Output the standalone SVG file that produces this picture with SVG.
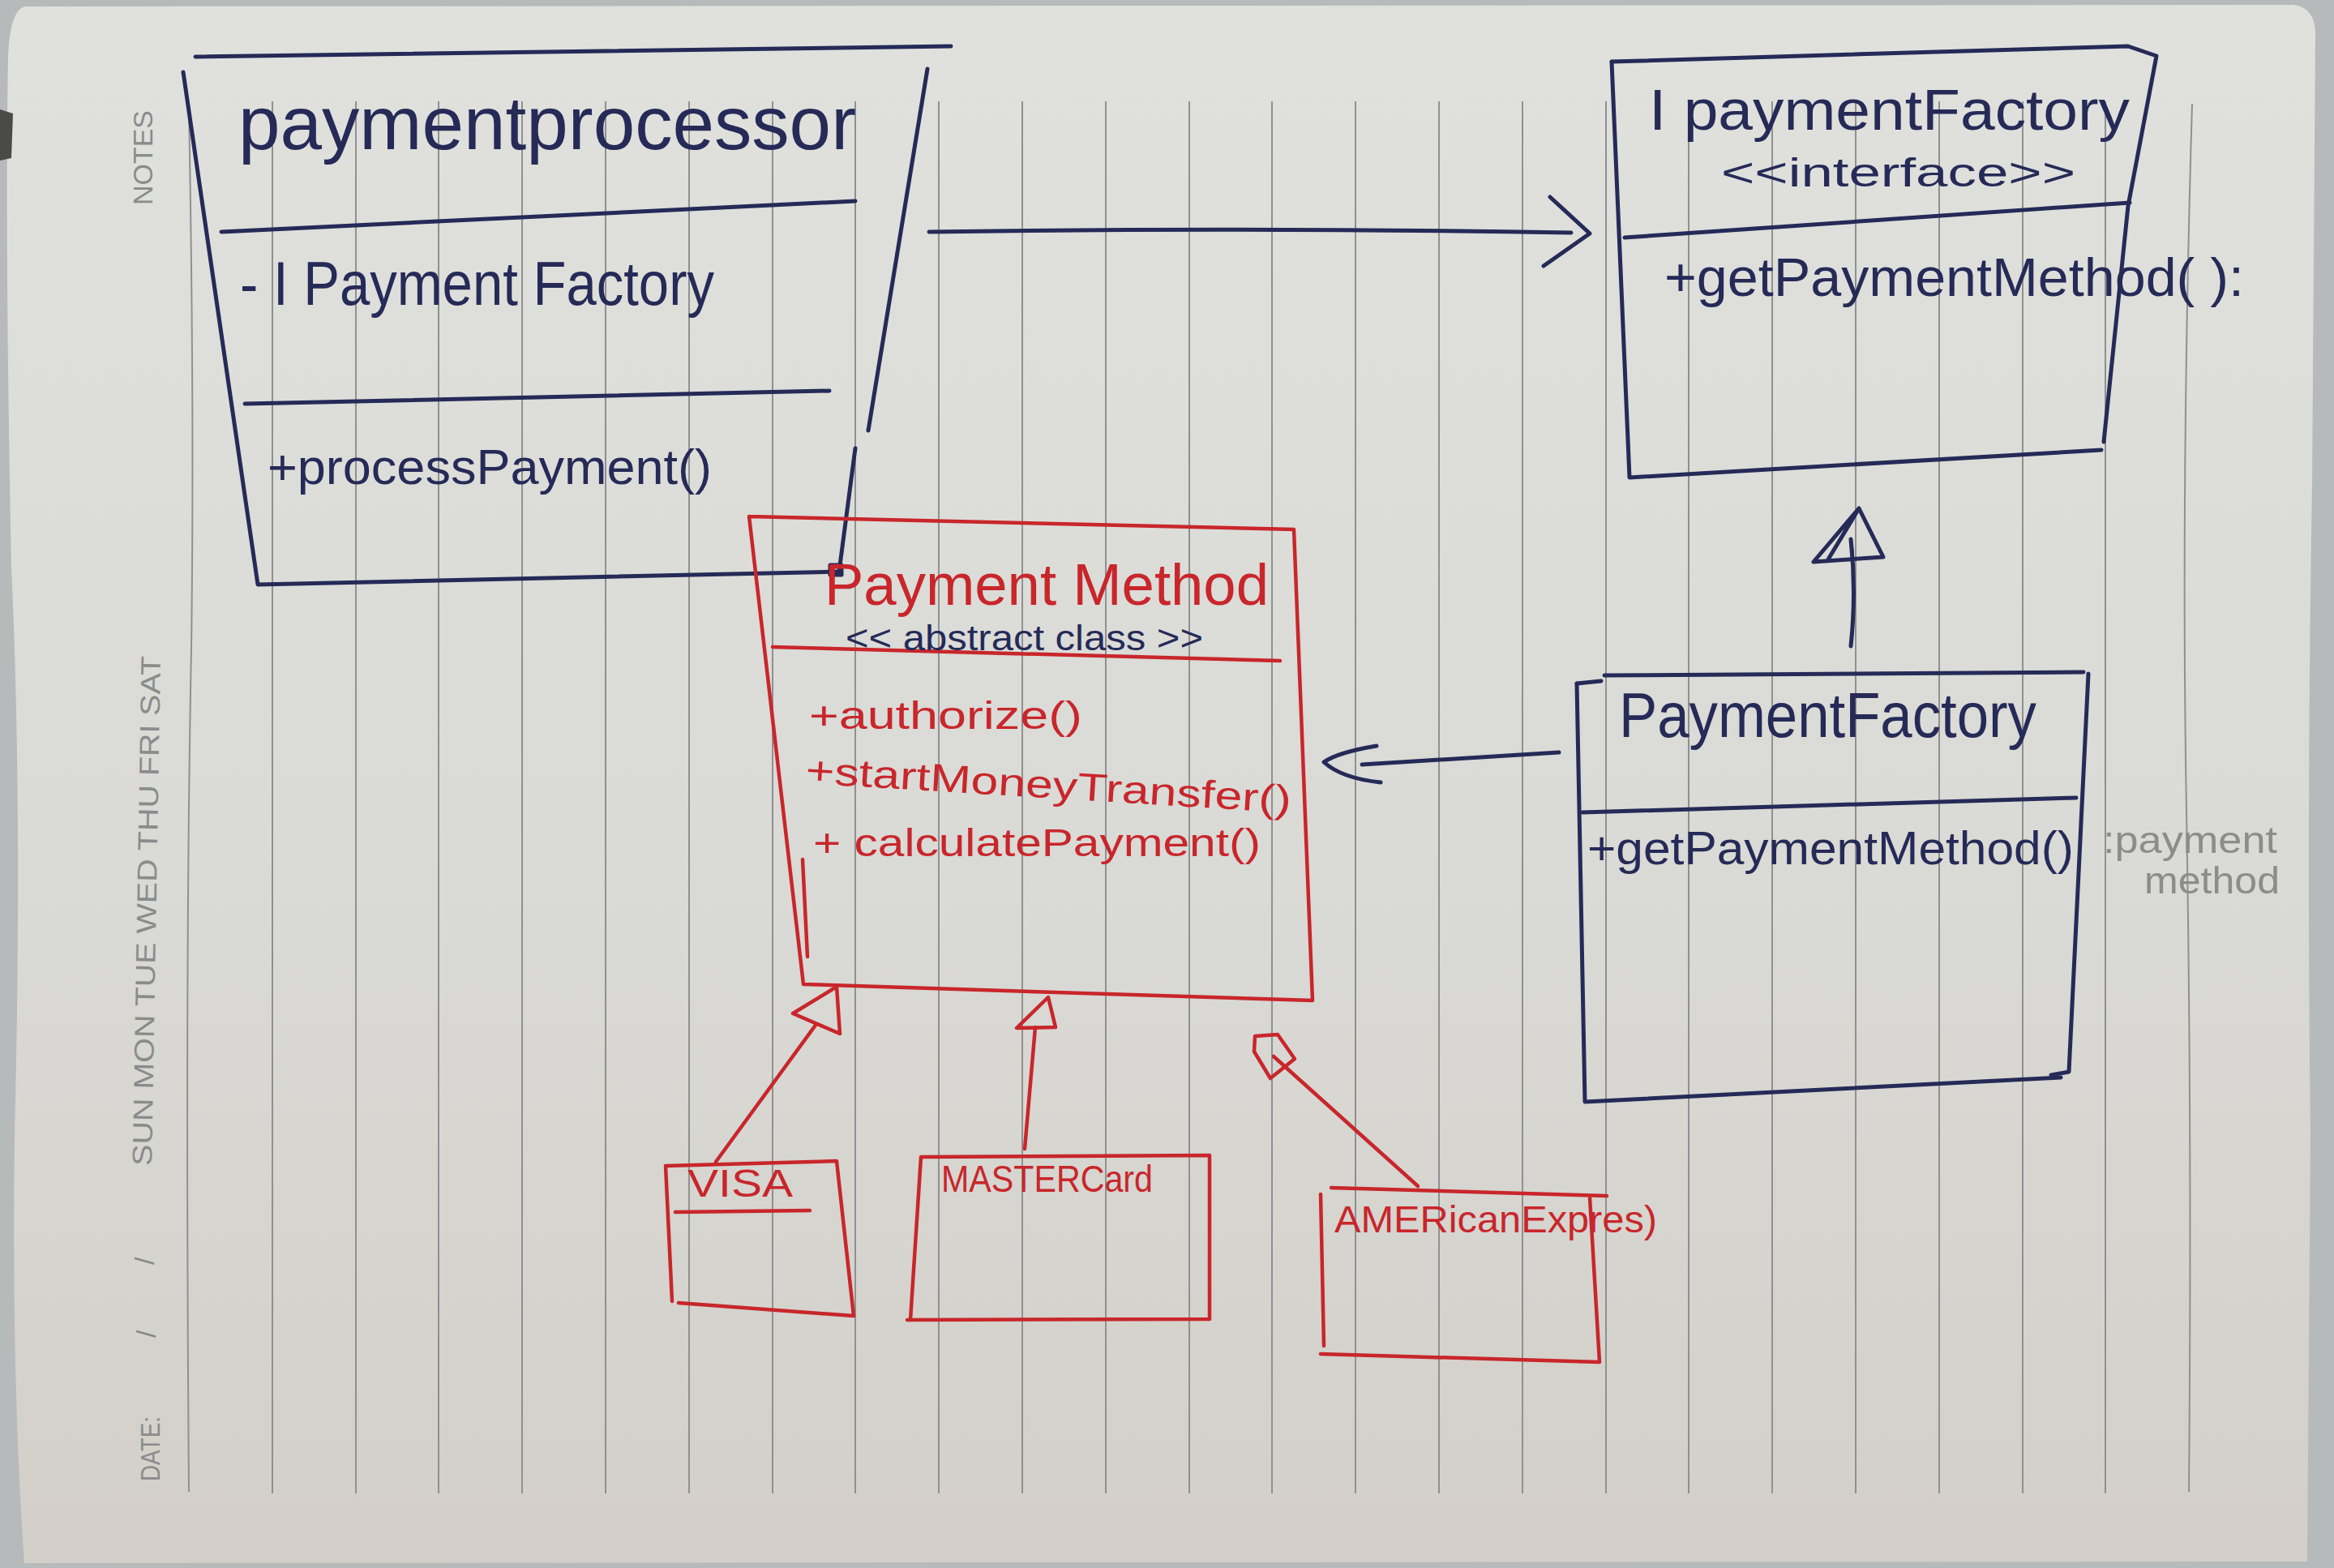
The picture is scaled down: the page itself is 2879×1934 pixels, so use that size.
<svg xmlns="http://www.w3.org/2000/svg" width="2879" height="1934" viewBox="0 0 2879 1934">
<defs>
<linearGradient id="paper" x1="0" y1="0" x2="0" y2="1">
<stop offset="0" stop-color="#e0e1dd"/>
<stop offset="0.6" stop-color="#d9d9d5"/>
<stop offset="1" stop-color="#d3cfc8"/>
</linearGradient>
<style>
.rule{stroke:#8f9090;stroke-width:2;fill:none}
.navy{stroke:#252a57;stroke-width:5;fill:none;stroke-linecap:round;stroke-linejoin:round}
.red{stroke:#c8262b;stroke-width:4.5;fill:none;stroke-linecap:round;stroke-linejoin:round}
.tn{fill:#252a57;font-family:"Liberation Sans",Arial,sans-serif}
.tr{fill:#c8262b;font-family:"Liberation Sans",Arial,sans-serif}
.tg{fill:#8c8d8b;font-family:"Liberation Sans",Arial,sans-serif}
.tm{fill:#8a8b8b;font-family:"Liberation Sans",Arial,sans-serif;font-size:34px}
</style>
</defs>

<g id="background">
<rect x="0" y="0" width="2879" height="1934" fill="#b6baba"/>
<path d="M30,8 L2830,6 Q2855,10 2856,40 L2852,600 Q2845,1000 2850,1400 L2846,1926 L30,1928 Q14,1700 18,1400 Q28,1000 14,700 Q6,300 10,70 Q12,14 30,8 Z" fill="url(#paper)"/>
<path d="M0,135 L16,140 L14,195 L0,198 Z" fill="#4a4a48"/>
<g id="ruled-lines">
<path class="rule" d="M233,135 Q240,500 236,800 Q228,1200 233,1840"/>
<line class="rule" x1="336" y1="125" x2="336" y2="1842"/>
<line class="rule" x1="439" y1="125" x2="439" y2="1842"/>
<line class="rule" x1="541" y1="125" x2="541" y2="1842"/>
<line class="rule" x1="644" y1="125" x2="644" y2="1842"/>
<line class="rule" x1="747" y1="125" x2="747" y2="1842"/>
<line class="rule" x1="850" y1="125" x2="850" y2="1842"/>
<line class="rule" x1="953" y1="125" x2="953" y2="1842"/>
<line class="rule" x1="1055" y1="125" x2="1055" y2="1842"/>
<line class="rule" x1="1158" y1="125" x2="1158" y2="1842"/>
<line class="rule" x1="1261" y1="125" x2="1261" y2="1842"/>
<line class="rule" x1="1364" y1="125" x2="1364" y2="1842"/>
<line class="rule" x1="1467" y1="125" x2="1467" y2="1842"/>
<line class="rule" x1="1569" y1="125" x2="1569" y2="1842"/>
<line class="rule" x1="1672" y1="125" x2="1672" y2="1842"/>
<line class="rule" x1="1775" y1="125" x2="1775" y2="1842"/>
<line class="rule" x1="1878" y1="125" x2="1878" y2="1842"/>
<line class="rule" x1="1981" y1="125" x2="1981" y2="1842"/>
<line class="rule" x1="2083" y1="125" x2="2083" y2="1842"/>
<line class="rule" x1="2186" y1="125" x2="2186" y2="1842"/>
<line class="rule" x1="2289" y1="125" x2="2289" y2="1842"/>
<line class="rule" x1="2392" y1="125" x2="2392" y2="1842"/>
<line class="rule" x1="2495" y1="125" x2="2495" y2="1842"/>
<line class="rule" x1="2597" y1="125" x2="2597" y2="1842"/>
<path class="rule" d="M2704,128 Q2690,600 2697,1000 Q2704,1400 2700,1840"/>
</g>
<g id="margin-print">
<text class="tm" transform="translate(188,253) rotate(-90)" textLength="117" lengthAdjust="spacingAndGlyphs">NOTES</text>
<text class="tm" transform="translate(187,1438) rotate(-89)" textLength="629" lengthAdjust="spacingAndGlyphs">SUN  MON  TUE  WED  THU  FRI  SAT</text>
<text class="tm" transform="translate(190,1560) rotate(-90)">/</text>
<text class="tm" transform="translate(192,1650) rotate(-90)">/</text>
<text class="tm" transform="translate(197,1827) rotate(-90)" textLength="80" lengthAdjust="spacingAndGlyphs">DATE:</text>
</g>
</g>

<g id="node-payment-processor">
<path class="navy" d="M241,70 L1173,57"/>
<path class="navy" d="M226,89 L318,721 L1035,705"/>
<path class="navy" d="M1144,85 L1071,531"/>
<path class="navy" d="M1055,553 L1035,705"/>
<rect class="navy" x="1024" y="697" width="14" height="12" stroke-width="3"/>
<path class="navy" d="M273,286 L1055,248"/>
<path class="navy" d="M302,498 L1023,482"/>
<text class="tn" x="294" y="184" font-size="92" textLength="762" lengthAdjust="spacingAndGlyphs">paymentprocessor</text>
<text class="tn" x="296" y="376" font-size="76" textLength="585" lengthAdjust="spacingAndGlyphs">- I Payment Factory</text>
<text class="tn" x="330" y="597" font-size="62" textLength="548" lengthAdjust="spacingAndGlyphs">+processPayment()</text>
</g>

<g id="node-ipayment-factory">
<path class="navy" d="M1988,76 L2625,57 L2660,69 L2625,254 L2595,545"/>
<path class="navy" d="M1988,76 L2010,589 L2592,555"/>
<path class="navy" d="M2004,293 L2627,250"/>
<text class="tn" x="2034" y="160" font-size="70" textLength="593" lengthAdjust="spacingAndGlyphs">I paymentFactory</text>
<text class="tn" x="2123" y="230" font-size="50" textLength="437" lengthAdjust="spacingAndGlyphs">&lt;&lt;interface&gt;&gt;</text>
<text class="tn" x="2053" y="365" font-size="66" textLength="715" lengthAdjust="spacingAndGlyphs">+getPaymentMethod( ):</text>
</g>

<g id="node-payment-factory">
<path class="navy" d="M1945,843 L1975,840 M1979,833 L2570,829"/>
<path class="navy" d="M1945,843 L1955,1359 L2542,1329"/>
<path class="navy" d="M2576,831 L2552,1322 L2530,1326"/>
<path class="navy" d="M1952,1002 L2561,984"/>
<text class="tn" x="1997" y="909" font-size="78" textLength="515" lengthAdjust="spacingAndGlyphs">PaymentFactory</text>
<text class="tn" x="1958" y="1066" font-size="58" textLength="600" lengthAdjust="spacingAndGlyphs">+getPaymentMethod()</text>
<text class="tg" x="2594" y="1052" font-size="46" textLength="215" lengthAdjust="spacingAndGlyphs">:payment</text>
<text class="tg" x="2645" y="1102" font-size="46" textLength="167" lengthAdjust="spacingAndGlyphs">method</text>
</g>

<g id="node-payment-method">
<path class="red" d="M924,637 L1596,653 L1619,1234 L991,1214 L924,637"/>
<path class="red" d="M990,1060 L996,1180"/>
<path class="red" d="M953,798 L1579,815"/>
<text class="tr" x="1017" y="746" font-size="72" textLength="548" lengthAdjust="spacingAndGlyphs">Payment Method</text>
<text class="tn" x="1043" y="802" font-size="44" textLength="441" lengthAdjust="spacingAndGlyphs">&lt;&lt; abstract class &gt;&gt;</text>
<text class="tr" x="998" y="899" font-size="48" textLength="337" lengthAdjust="spacingAndGlyphs">+authorize()</text>
<text class="tr" transform="rotate(3.5 993 966)" x="993" y="966" font-size="48" textLength="600" lengthAdjust="spacingAndGlyphs">+startMoneyTransfer()</text>
<text class="tr" x="1003" y="1056" font-size="48" textLength="552" lengthAdjust="spacingAndGlyphs">+ calculatePayment()</text>
</g>

<g id="node-visa">
<path class="red" d="M821,1438 L1032,1432 L1053,1623 L837,1607 M821,1438 L829,1605"/>
<path class="red" d="M833,1495 L999,1493"/>
<text class="tr" x="848" y="1476" font-size="48" textLength="130" lengthAdjust="spacingAndGlyphs">VISA</text>
</g>

<g id="node-mastercard">
<path class="red" d="M1136,1427 L1492,1425 L1492,1627 L1119,1628 M1136,1427 L1123,1628"/>
<text class="tr" x="1161" y="1470" font-size="46" textLength="261" lengthAdjust="spacingAndGlyphs">MASTERCard</text>
</g>

<g id="node-american-express">
<path class="red" d="M1642,1465 L1982,1475 M1629,1473 L1633,1660 M1961,1477 L1973,1680 M1629,1670 L1973,1680"/>
<text class="tr" x="1646" y="1520" font-size="46" textLength="398" lengthAdjust="spacingAndGlyphs">AMERicanExpres)</text>
</g>

<g id="connectors">
<path class="navy" d="M1146,286 Q1540,280 1938,287"/>
<path class="navy" d="M1912,243 L1961,288 L1904,328"/>
<path class="navy" d="M2283,797 Q2290,730 2283,665"/>
<path class="navy" d="M2293,627 L2237,693 L2323,687 Z M2255,690 L2293,627"/>
<path class="navy" d="M1923,928 L1680,943"/>
<path class="navy" d="M1698,920 Q1650,928 1633,940 Q1655,960 1703,965"/>
<path class="red" d="M883,1433 L1007,1263"/>
<path class="red" d="M1032,1217 L978,1250 L1036,1275 Z"/>
<path class="red" d="M1264,1417 L1277,1267"/>
<path class="red" d="M1293,1230 L1254,1268 L1302,1267 Z"/>
<path class="red" d="M1749,1463 L1571,1303"/>
<path class="red" d="M1548,1278 L1576,1276 L1597,1306 L1567,1330 L1547,1297 Z"/>
</g>
</svg>
